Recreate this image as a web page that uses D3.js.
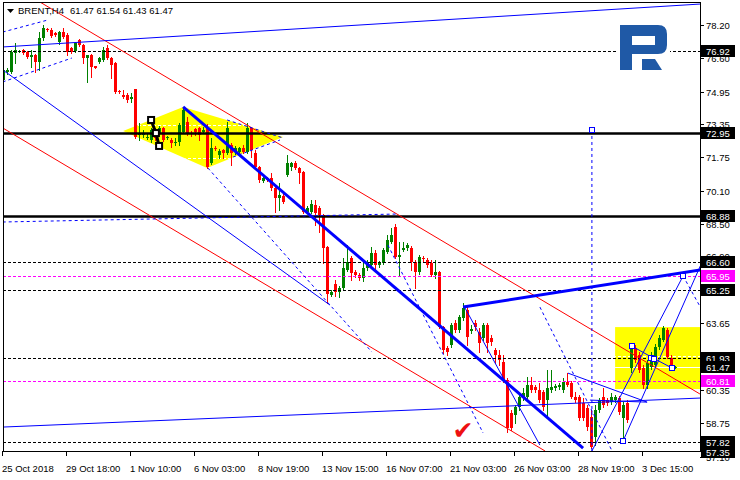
<!DOCTYPE html>
<html><head><meta charset="utf-8">
<script src="https://cdn.jsdelivr.net/npm/d3@7"></script>
<style>html,body{margin:0;padding:0;background:#fff;} svg{display:block;}</style>
</head><body><svg id="c" width="740" height="480"></svg>
<script>
// ---------- DATA (BRENT, H4) ----------
const opens = [
75.53,75.92,75.92,76.85,76.94,76.99,76.90,76.65,76.75,76.41,
77.58,78.02,77.97,77.83,77.39,77.87,77.73,77.09,76.94,77.48,
77.24,76.60,76.75,76.21,76.41,76.50,77.09,76.60,76.36,74.99,
74.79,74.79,74.60,75.09,72.84,72.84,72.74,72.59,73.08,72.93,
73.18,72.69,72.59,72.44,72.49,72.98,73.47,72.93,73.13,73.18,
72.98,73.23,71.47,72.20,71.86,72.10,71.95,72.35,72.00,72.00,
72.20,72.00,73.18,71.95,71.27,70.59,70.73,70.73,70.24,69.75,
69.85,70.88,71.27,71.47,71.22,71.03,69.07,69.07,69.41,69.27,
68.92,67.36,65.01,65.55,65.16,65.35,66.23,66.82,66.13,65.99,
65.84,66.33,66.48,67.06,66.48,66.57,67.11,67.60,68.33,66.87,
67.21,67.31,67.31,66.62,66.13,66.82,66.72,66.57,65.99,66.13,
63.44,62.42,62.56,63.64,63.30,63.88,64.28,63.25,63.64,63.20,
62.91,63.54,62.91,62.32,62.07,61.73,60.85,59.24,59.14,59.53,
59.97,60.02,60.61,60.51,60.36,60.26,59.87,60.36,60.46,60.51,
60.36,60.75,60.71,60.02,60.02,59.72,59.48,59.04,58.06,59.38,
60.02,59.87,59.77,59.87,59.97,58.99,59.72,61.44,62.42,62.07,
61.44,60.61,61.49,61.58,62.47,62.81,63.30,61.93,61.47];
const highs = [
76.21,76.11,76.99,77.34,76.99,77.04,76.94,76.99,76.80,77.87,
78.22,78.07,78.07,77.87,77.92,78.07,77.83,77.14,77.39,77.53,
77.29,76.75,76.80,76.21,76.65,77.14,77.24,76.65,76.41,75.04,
75.04,74.89,74.89,75.09,73.42,73.08,72.88,73.18,73.18,73.28,
73.23,72.79,72.69,72.69,73.42,74.21,73.72,73.03,73.18,73.23,
73.23,73.37,72.69,72.30,72.15,72.15,73.47,72.44,72.30,72.25,
72.35,73.42,73.23,72.10,71.32,70.78,70.78,70.98,70.34,70.49,
70.05,71.86,71.52,71.56,71.27,71.08,69.36,69.66,69.66,69.36,
68.97,67.41,65.25,65.74,65.45,66.82,67.45,66.92,66.23,66.08,
66.57,66.72,67.36,67.21,66.67,67.31,67.94,68.28,68.48,67.60,
67.60,67.55,67.41,66.72,66.97,66.92,66.82,66.72,66.72,66.18,
63.49,62.51,63.64,63.79,64.03,64.62,64.52,63.54,63.79,63.39,
63.64,63.64,63.05,62.42,62.32,62.07,60.95,59.38,59.63,60.12,
60.46,60.99,60.99,60.61,60.71,60.36,61.34,61.34,60.65,60.71,
60.95,61.19,60.80,60.26,60.12,59.97,59.63,59.38,59.63,59.97,
60.46,59.97,60.21,60.12,60.07,59.77,59.87,62.56,62.56,62.22,
61.58,61.83,62.22,62.61,63.05,63.49,63.40,62.07,61.54];
const lows = [
75.43,75.82,75.87,76.36,76.90,76.80,76.60,76.16,75.92,76.02,
77.48,77.92,77.63,77.68,77.29,77.58,76.75,76.85,76.90,77.19,
76.36,75.43,75.67,76.11,76.36,76.45,76.55,75.62,74.89,74.89,
74.65,74.45,74.45,72.69,72.59,72.74,72.64,72.49,72.59,72.88,
72.54,72.64,72.25,72.35,72.35,72.93,72.84,72.79,72.84,72.59,
72.93,71.22,71.42,72.10,71.71,71.71,71.91,71.37,71.91,71.95,
71.95,71.95,71.76,71.17,70.54,70.54,70.59,70.15,69.07,69.17,
69.51,70.83,71.12,71.17,70.49,69.02,69.02,69.02,68.43,68.09,
66.57,64.62,64.96,64.96,64.91,65.30,66.18,65.74,65.89,65.74,
65.69,66.23,66.43,66.23,66.38,66.53,67.06,67.55,66.82,65.99,
67.16,67.21,66.23,65.35,66.04,66.67,66.38,65.94,65.84,63.39,
62.17,62.07,62.47,63.20,63.20,63.79,62.56,63.15,63.30,62.22,
62.81,62.22,62.56,61.68,61.58,60.75,58.31,58.41,58.75,59.38,
59.87,59.97,60.26,60.26,59.77,59.38,59.04,60.26,60.36,60.41,
60.26,60.56,59.97,59.77,58.90,58.90,58.41,57.52,57.67,59.28,
59.53,59.63,59.68,59.77,59.19,58.01,58.80,61.24,61.73,61.24,
60.46,60.46,61.39,61.53,62.37,62.76,61.93,61.39,61.43];
const closes = [
76.02,76.02,76.90,76.99,76.95,76.85,76.65,76.75,76.41,77.58,
78.07,77.97,77.68,77.73,77.87,77.63,76.90,76.90,77.34,77.24,
76.60,76.75,76.16,76.11,76.60,76.99,76.60,76.26,74.94,74.94,
74.69,74.55,74.69,72.74,72.88,72.88,72.76,73.08,72.69,73.18,
72.59,72.74,72.44,72.49,73.32,74.06,72.93,72.88,72.98,72.84,
73.08,71.27,72.20,72.18,72.05,71.95,73.18,71.95,72.20,72.20,
72.00,73.18,72.10,71.27,70.63,70.73,70.63,70.24,69.75,69.90,
69.56,71.47,71.47,71.22,70.98,69.07,69.27,69.46,69.02,68.92,
67.31,65.06,65.16,65.16,65.35,66.33,66.62,66.08,65.99,65.84,
66.33,66.57,67.06,66.48,66.57,67.21,67.70,67.94,66.87,66.97,
67.31,67.45,66.62,66.13,66.87,66.77,66.48,65.99,66.13,63.44,
62.32,62.22,63.54,63.30,63.93,64.37,62.96,63.35,63.44,62.66,
63.54,62.66,62.71,62.07,61.83,60.85,58.50,58.50,59.53,60.02,
60.21,60.61,60.36,60.36,59.87,59.53,60.46,60.51,60.56,60.61,
60.75,60.61,60.02,59.87,58.99,58.99,58.55,57.57,59.38,59.87,
59.63,59.72,60.02,60.02,59.28,59.63,58.90,62.47,61.83,61.34,
60.61,61.68,62.07,62.47,62.91,63.39,61.98,61.50,61.47];

const xTickBars = [0,16,32,48,64,80,96,112,128,144,160];
const xTickLabels = ["25 Oct 2018","29 Oct 18:00","1 Nov 10:00","6 Nov 03:00","8 Nov 19:00","13 Nov 15:00","16 Nov 07:00","21 Nov 03:00","26 Nov 03:00","28 Nov 19:00","3 Dec 15:00"];
const yTicks = [78.20,76.60,74.95,73.35,71.75,70.10,68.50,66.90,65.25,63.65,62.00,60.35,58.75,57.10];

// horizontal levels
const solidLevels = [72.95, 68.88];
const dashedLevels = [76.92, 66.60, 65.25, 61.93, 57.82];
const magentaLevels = [65.95, 60.81];
const blackLabels = [76.92, 72.95, 68.88, 66.60, 65.25, 61.93, 61.47, 57.82, 57.35];
const magentaLabels = [65.95, 60.81];
const bidPrice = 61.47;
const titleValues = ["61.47","61.54","61.43","61.47"];

// drawing objects, in [bar index, price]
const diamondZone = [[29.9,73.03],[44.9,74.21],[69.9,72.74],[50.9,71.22]];
const boxZone = [[152.9,63.44],[174.2,60.41]];
const diamondWhiteLevels = [73.33, 71.71];
const boxWhiteDashed = [62.02];
const redLines = [
  [[9.1,79.34],[174.1,60.17]],
  [[-0.2,73.18],[135.4,57.38]]
];
const blueThinLines = [
  [[-0.2,77.14],[174.2,79.24]],
  [[-0.2,58.55],[174.2,59.97]],
  [[-0.2,76.02],[81.6,64.52]],
  [[115.4,64.37],[134.1,57.67]],
  [[141.1,61.19],[160.9,59.77]],
  [[147.1,57.38],[169.9,65.94]],
  [[154.9,57.87],[174.2,66.43]],
  [[157.1,62.51],[162.4,61.93],[167.1,61.44]],
  [[146.6,59.87],[160.9,59.77]]
];
const blueDashedLines = [
  [[51.1,71.22],[92.1,62.22]],
  [[96.1,67.45],[119.9,58.26]],
  [[-0.2,77.87],[11.1,78.46]],
  [[-0.2,75.43],[17.1,76.60]],
  [[-0.2,68.58],[98.4,68.97]],
  [[55.9,73.57],[69.9,72.69]],
  [[57.4,71.76],[69.1,72.59]],
  [[134.1,64.42],[152.4,57.28]],
  [[169.9,65.94],[174.2,64.42]],
  [[147.1,73.08],[147.1,57.38]]
];
const blueThickLines = [
  [[44.9,74.21],[144.9,57.52]],
  [[114.9,64.42],[174.2,66.23]]
];
const blackZigzag = [[36.9,73.57],[38.1,72.93],[38.9,72.30]];
const squareMarks = [[157.1,62.51],[161.9,61.93],[162.6,61.90],[167.1,61.44],[154.9,57.87],[169.9,65.94],[147.1,73.08]];
const checkMark = [114.9, 58.36];

// ---------- DRAW ----------
const svg = d3.select("#c");
const W = 740, H = 480;
const L = 3, R = 700, T = 2, B = 451;
const x = d3.scaleLinear().domain([0, 174]).range([3.5, 699.5]);
const y = d3.scaleLinear().domain([57.38, 79.34]).range([B, T]);
const FONT = "'Liberation Sans', Arial, sans-serif";

svg.append("rect").attr("width", W).attr("height", H).attr("fill", "#fff");
const defs = svg.append("defs");
defs.append("clipPath").attr("id", "plot").append("rect")
  .attr("x", L).attr("y", T).attr("width", R - L).attr("height", B - T);
const diamondPts = diamondZone.map(d => [x(d[0]), y(d[1])]);
defs.append("clipPath").attr("id", "dia").append("polygon").attr("points", diamondPts.map(p => p.join(",")).join(" "));
const bx0 = x(boxZone[0][0]), bx1 = x(boxZone[1][0]), by0 = y(boxZone[0][1]), by1 = y(boxZone[1][1]);
defs.append("clipPath").attr("id", "box").append("rect").attr("x", bx0).attr("y", by0).attr("width", bx1 - bx0).attr("height", by1 - by0);

const g = svg.append("g").attr("clip-path", "url(#plot)");

// yellow zones
g.append("polygon").attr("points", diamondPts.map(p => p.join(",")).join(" ")).attr("fill", "#ffff00");
g.append("rect").attr("x", bx0).attr("y", by0).attr("width", bx1 - bx0).attr("height", by1 - by0).attr("fill", "#ffff00");

// white lines only visible on yellow
const gd = g.append("g").attr("clip-path", "url(#dia)");
diamondWhiteLevels.forEach(v => gd.append("line").attr("x1", L).attr("x2", R)
  .attr("y1", Math.round(y(v)) + 0.5).attr("y2", Math.round(y(v)) + 0.5)
  .attr("stroke", "#fff").attr("stroke-dasharray", "3,2"));
const gb = g.append("g").attr("clip-path", "url(#box)");
boxWhiteDashed.forEach(v => gb.append("line").attr("x1", L).attr("x2", R)
  .attr("y1", Math.round(y(v)) + 0.5).attr("y2", Math.round(y(v)) + 0.5)
  .attr("stroke", "#fff").attr("stroke-dasharray", "3,2"));
gb.append("line").attr("x1", L).attr("x2", R)
  .attr("y1", Math.round(y(bidPrice)) + 0.5).attr("y2", Math.round(y(bidPrice)) + 0.5).attr("stroke", "#fff");

// candles
const idx = d3.range(opens.length);
const cg = g.append("g");
idx.forEach(i => {
  const o = opens[i], c = closes[i], h = highs[i], l = lows[i];
  const col = c >= o ? "#008000" : "#ff0000";
  const cx = x(i);
  cg.append("line").attr("x1", cx).attr("x2", cx)
    .attr("y1", Math.round(y(h))).attr("y2", Math.round(y(l)) + 1)
    .attr("stroke", col).attr("stroke-width", 1);
  const yt = Math.round(y(Math.max(o, c))), yb = Math.round(y(Math.min(o, c)));
  cg.append("rect").attr("x", cx - 1.5).attr("y", yt).attr("width", 3)
    .attr("height", Math.max(1, yb - yt)).attr("fill", col);
});

// horizontal levels
const hl = (v, col, dash, w) => g.append("line").attr("x1", L).attr("x2", R)
  .attr("y1", Math.round(y(v)) + 0.5).attr("y2", Math.round(y(v)) + 0.5)
  .attr("stroke", col).attr("stroke-width", w).attr("stroke-dasharray", dash);
dashedLevels.forEach(v => hl(v, "#000", "3,2", 1));
magentaLevels.forEach(v => hl(v, "#ff00ff", "3,2", 1));
solidLevels.forEach(v => hl(v, "#000", null, 2.5));

// trend lines
const line = d3.line().x(d => x(d[0])).y(d => y(d[1]));
redLines.forEach(p => g.append("path").attr("d", line(p)).attr("fill", "none").attr("stroke", "#ff0000").attr("stroke-width", 1));
blueThinLines.forEach(p => g.append("path").attr("d", line(p)).attr("fill", "none").attr("stroke", "#0000ff").attr("stroke-width", 1));
blueDashedLines.forEach(p => g.append("path").attr("d", line(p)).attr("fill", "none").attr("stroke", "#0000ff").attr("stroke-width", 1).attr("stroke-dasharray", "3,3"));
blueThickLines.forEach(p => g.append("path").attr("d", line(p)).attr("fill", "none").attr("stroke", "#0000ff").attr("stroke-width", 3));

// black zigzag marker
g.append("path").attr("d", line(blackZigzag)).attr("fill", "none").attr("stroke", "#000").attr("stroke-width", 3);
blackZigzag.forEach(d => g.append("rect").attr("x", x(d[0]) - 3).attr("y", y(d[1]) - 3).attr("width", 6).attr("height", 6)
  .attr("fill", "#fff").attr("stroke", "#000").attr("stroke-width", 2));

// squares
squareMarks.forEach(d => g.append("rect").attr("x", Math.round(x(d[0])) - 2.5).attr("y", Math.round(y(d[1])) - 2.5)
  .attr("width", 5).attr("height", 5).attr("fill", "#fff").attr("stroke", "#0000ff").attr("stroke-width", 1));

// check mark
g.append("text").attr("x", x(checkMark[0])).attr("y", y(checkMark[1])).attr("text-anchor", "middle")
  .attr("dominant-baseline", "central").attr("font-family", "'DejaVu Sans', sans-serif").attr("font-size", 25)
  .attr("fill", "#ee1111").text("\u2714");

// logo
const lg = svg.append("g");
lg.append("rect").attr("x", 617).attr("y", 20).attr("width", 53).attr("height", 55).attr("fill", "#fff");
lg.append("path").attr("fill", "#1f59a6").attr("fill-rule", "evenodd")
  .attr("d", "M620,25 H658 Q667,25 667,34 V45 Q667,54 658,54 H632 V70 H620 Z M632,36 V45 H655 V36 Z");
lg.append("path").attr("fill", "#1f59a6").attr("d", "M642,59 H655 L662,70 H642 Z");

// frame
svg.append("rect").attr("x", L + 0.5).attr("y", T + 0.5).attr("width", R - L).attr("height", B - T)
  .attr("fill", "none").attr("stroke", "#000").attr("stroke-width", 1);

// x axis
xTickBars.forEach((b, k) => {
  const tx = Math.floor(x(b)) - 0.5;
  svg.append("line").attr("x1", tx).attr("x2", tx).attr("y1", B).attr("y2", B + 5).attr("stroke", "#000");
  svg.append("text").attr("x", tx - 0.5).attr("y", 472).attr("font-family", FONT).attr("font-size", 9.5)
    .attr("fill", "#000").text(xTickLabels[k]);
});

// y axis
yTicks.forEach(v => {
  const ty = Math.round(y(v)) + 0.5;
  svg.append("line").attr("x1", R).attr("x2", R + 4).attr("y1", ty).attr("y2", ty).attr("stroke", "#000");
  svg.append("text").attr("x", 706).attr("y", ty + 3.5).attr("font-family", FONT).attr("font-size", 9.5)
    .attr("fill", "#000").text(v.toFixed(2));
});

// price labels
const plabel = (v, bg) => {
  const ty = y(v);
  svg.append("rect").attr("x", 701).attr("y", Math.round(ty) - 6).attr("width", 34).attr("height", 12).attr("fill", bg);
  svg.append("text").attr("x", 706).attr("y", Math.round(ty) + 3.5).attr("font-family", FONT).attr("font-size", 9.5)
    .attr("fill", "#fff").text(v.toFixed(2));
};
blackLabels.forEach(v => plabel(v, "#000"));
magentaLabels.forEach(v => plabel(v, "#ff00ff"));

// title
svg.append("path").attr("d", "M7,9 H14 L10.5,13 Z").attr("fill", "#000");
svg.append("text").attr("x", 18).attr("y", 14).attr("font-family", FONT).attr("font-size", 9.5).attr("fill", "#000").text("BRENT,H4");
svg.append("text").attr("x", 70).attr("y", 14).attr("font-family", FONT).attr("font-size", 9.5).attr("fill", "#000").text(titleValues.join(" "));
</script></body></html>
